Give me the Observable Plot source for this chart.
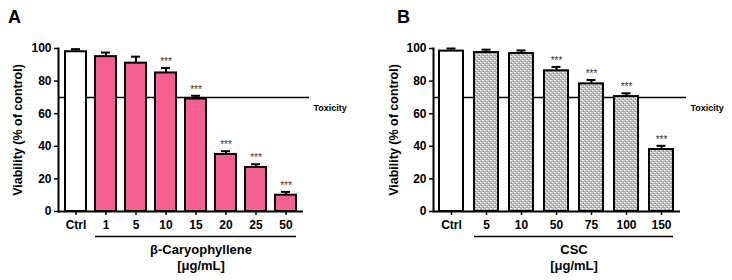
<!DOCTYPE html>
<html>
<head>
<meta charset="utf-8">
<script src="https://cdn.jsdelivr.net/npm/d3@7"></script>
<script src="https://cdn.jsdelivr.net/npm/@observablehq/plot@0.6"></script>
<style>
  html, body { margin: 0; padding: 0; background: #fff; }
  #wrap { position: relative; width: 732px; height: 280px; font-family: "Liberation Sans", Arial, sans-serif; }
  .panel { position: absolute; top: 0; width: 366px; height: 280px; }
  .letter { position: absolute; top: 7px; font-size: 18px; font-weight: bold; font-family: "Liberation Sans", Arial, sans-serif; }
</style>
</head>
<body>
<svg width="0" height="0" style="position:absolute">
  <defs>
    <pattern id="dots" width="4" height="4" patternUnits="userSpaceOnUse">
      <rect width="4" height="4" fill="#bdbdbd"/>
      <rect x="0" y="0" width="1.5" height="1" fill="#ffffff"/>
      <rect x="2" y="2" width="1.5" height="1" fill="#ffffff"/>
      <rect x="1" y="3" width="1" height="1" fill="#8a8a8a"/>
      <rect x="3" y="1" width="1" height="1" fill="#8a8a8a"/>
    </pattern>
  </defs>
</svg>
<div id="wrap">
  <div class="letter" style="left:8px">A</div>
  <div class="letter" style="left:397px">B</div>
  <div class="panel" id="pa" style="left:0"></div>
  <div class="panel" id="pb" style="left:366px"></div>
</div>
<script>
// Panel A: beta-Caryophyllene
const catA = ["Ctrl", "1", "5", "10", "15", "20", "25", "50"];
const valA = [98, 95, 91, 85, 69, 35, 27, 10];
const errA = [1.6, 2.5, 4, 3, 2, 2, 2, 2];
const sigA = ["", "", "", "***", "***", "***", "***", "***"];
const titleA = "β-Caryophyllene\n[μg/mL]";

// Panel B: CSC
const catB = ["Ctrl", "5", "10", "50", "75", "100", "150"];
const valB = [98.4, 97.5, 96.9, 86.3, 78.3, 70.5, 38];
const errB = [1.6, 1.8, 1.9, 2.4, 2.4, 2, 2.3];
const sigB = ["", "", "", "***", "***", "***", "***"];
const titleB = "CSC\n[μg/mL]";

const yTicks = [0, 20, 40, 60, 80, 100];
const yLabel = "Viability (% of control)";
const toxicity = 70;
const toxLabel = "Toxicity";

const FONT = '"Liberation Sans", Arial, sans-serif';

function panel({cats, vals, errs, sigs, title, fill, margins, pad, capInset, titleDx, ylabDx}) {
  const data = cats.map((c, i) => ({cat: c, v: vals[i], e: errs[i], s: sigs[i]}));
  const treat = cats.slice(1);
  return Plot.plot({
    width: 366,
    height: 280,
    ...margins,
    style: {fontFamily: FONT, fontSize: "12px", fontWeight: "bold", color: "black", background: "transparent", overflow: "visible"},
    x: {type: "band", domain: cats, paddingInner: pad[0], paddingOuter: pad[1], label: null},
    y: {domain: [0, 100], label: null},
    marks: [
      Plot.ruleY([toxicity], {stroke: "black", strokeWidth: 1.5, insetRight: -6}),
      Plot.ruleX(data, {x: "cat", y1: "v", y2: d => d.v + d.e, stroke: "black", strokeWidth: 2}),
      Plot.tickY(data, {x: "cat", y: d => d.v + d.e, stroke: "black", strokeWidth: 2, insetLeft: capInset, insetRight: capInset}),
      Plot.barY(data, {filter: d => d.cat === "Ctrl", x: "cat", y: "v", fill: "white", stroke: "black", strokeWidth: 2}),
      Plot.barY(data, {filter: d => d.cat !== "Ctrl", x: "cat", y: "v", fill: fill, stroke: "black", strokeWidth: 2}),
      Plot.text(data, {filter: d => d.s, x: "cat", y: d => d.v + d.e, text: "s", dy: -3, lineAnchor: "bottom", fontSize: 10, fontWeight: "normal", fill: "#333"}),
      Plot.axisY({ticks: yTicks, tickSize: 4, tickPadding: 3, label: null, strokeWidth: 1.5}),
      Plot.axisX({tickSize: 4, tickPadding: 5, label: null, strokeWidth: 1.5}),
      Plot.frame({anchor: "left", stroke: "black", strokeWidth: 2}),
      Plot.ruleY([0], {stroke: "black", strokeWidth: 2}),
      Plot.ruleY([0], {x1: () => treat[0], x2: () => treat[treat.length - 1], dy: 25, stroke: "black", strokeWidth: 1.5}),
      Plot.text([toxLabel], {text: d => d, y: () => toxicity, frameAnchor: "right", textAnchor: "start", dx: 10, dy: 11, fontSize: 9}),
      Plot.text([title], {text: d => d, frameAnchor: "bottom", textAnchor: "middle", lineAnchor: "top", dx: titleDx, dy: 30, fontSize: 13, lineHeight: 1.3}),
      Plot.text([yLabel], {text: d => d, frameAnchor: "left", textAnchor: "middle", rotate: -90, dx: ylabDx, fontSize: 12.5})
    ]
  });
}

document.getElementById("pa").append(panel({
  cats: catA, vals: valA, errs: errA, sigs: sigA, title: titleA,
  fill: "#f4608f",
  margins: {marginLeft: 58, marginRight: 63, marginTop: 48, marginBottom: 69},
  pad: [0.31, 0.12], capInset: 6, titleDx: 20, ylabDx: -41
}));

document.getElementById("pb").append(panel({
  cats: catB, vals: valB, errs: errB, sigs: sigB, title: titleB,
  fill: "url(#dots)",
  margins: {marginLeft: 67, marginRight: 52, marginTop: 48, marginBottom: 69},
  pad: [0.31, 0.17], capInset: 7.5, titleDx: 17, ylabDx: -40
}));
</script>
</body>
</html>
